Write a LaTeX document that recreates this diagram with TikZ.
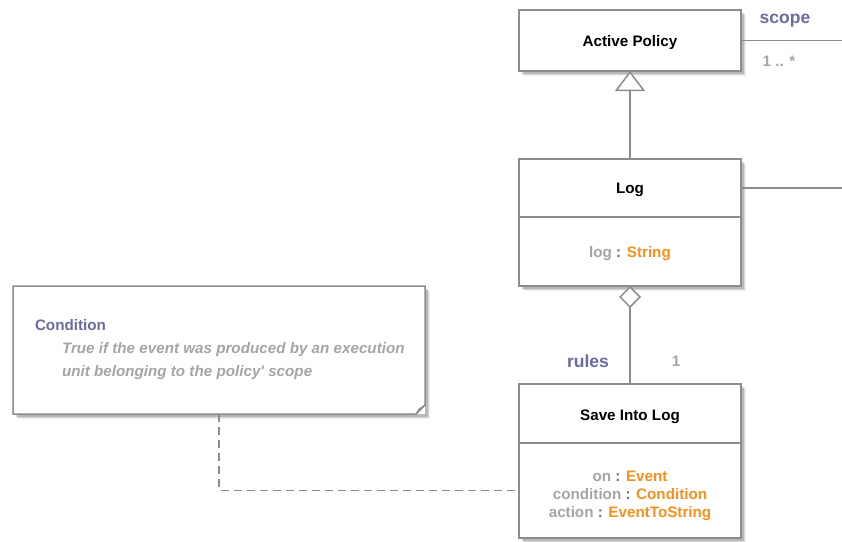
\documentclass[tikz,border=0pt]{standalone}
\usepackage{fontspec}
\setmainfont{Liberation Sans}
\usetikzlibrary{positioning,arrows.meta,shadows}
\definecolor{umlline}{HTML}{8C8C8C}
\definecolor{umlpurple}{HTML}{6B6BA0}
\definecolor{umlorange}{HTML}{F7901E}
\definecolor{umlgrey}{HTML}{A5A5A5}
\newcommand{\umlattr}[2]{\textcolor{umlgrey}{#1} \textcolor{umlpurple}{:} \textcolor{umlorange}{#2}}

\begin{document}
\begin{tikzpicture}[x=1pt, y=-1pt, line width=1.5pt, node distance=88pt,
    every node/.style={font=\fontsize{15.2}{18}\selectfont\bfseries, inner sep=0pt, outer sep=0pt},
    umlshadow/.style={
      drop shadow={shadow xshift=5pt, shadow yshift=-5pt, opacity=0.06, fill=black},
      drop shadow={shadow xshift=4pt, shadow yshift=-4pt, opacity=0.1, fill=black},
      drop shadow={shadow xshift=2.5pt, shadow yshift=-2.5pt, opacity=0.15, fill=black}},
    classbox/.style={draw=umlline, fill=white, minimum width=222pt, text depth=0pt, umlshadow},
    rolelabel/.style={font=\fontsize{17.5}{18}\selectfont\bfseries, text=umlpurple},
    multlabel/.style={text=umlgrey}]
    \useasboundingbox (0,0) rectangle (842,541);

    % classes
    \node (policy) [classbox, minimum height=61pt] at (630,40.5) {Active Policy};
    \node (log)      [classbox, minimum height=58pt, below=88pt of policy] {Log};
    \node (logattr)  [classbox, minimum height=69pt, below=0pt of log] {\umlattr{log}{String}};
    \node (save)     [classbox, minimum height=59pt, below=98pt of logattr] {\rule{0pt}{13pt}Save Into Log};
    \node (saveattr) [classbox, minimum height=95pt, below=0pt of save, align=center]
      {\rule{0pt}{17pt}\umlattr{on}{Event}\\ \umlattr{condition}{Condition}\\ \umlattr{action}{EventToString}};

    % note
    \node (note) [fill=white, minimum width=412pt, minimum height=128pt, umlshadow] at (219,350) {};
    \draw[umlline] (note.north west) -- (note.north east) -- ([shift={(0,-9)}]note.south east)
      -- ([shift={(-9,0)}]note.south east) -- (note.south west) -- cycle;
    \draw[umlline, line width=1pt] ([shift={(0,-9)}]note.south east) -- ([shift={(-6,-5)}]note.south east)
      -- ([shift={(-9,0)}]note.south east);
    \node (notehead) [anchor=west, text=umlpurple] at (35,325) {Condition};
    \node (notebody) [anchor=west, align=left, text=umlgrey, font=\fontsize{15.2}{23}\selectfont\bfseries\itshape] at (62,361.5)
      {True if the event was produced by an execution\\ unit belonging to the policy\textquotesingle\ scope};

    % free ends
    \coordinate (scopeend) at (842,40.5);
    \coordinate (logend) at (842,188);

    % connectors
    \draw[umlline] (policy.east) -- (scopeend);
    \draw[umlline] (log.east) -- (logend);
    \draw[umlline, -{Triangle[length=20pt, width=30pt, fill=white]}] (log.north) -- (policy.south);
    \draw[umlline, {Diamond[length=22pt, width=22pt, fill=white]}-] (logattr.south) -- (save.north);
    \draw[umlline, dash pattern=on 8pt off 5pt] (note.south) |- (saveattr.west);

    % role names and multiplicities
    \node (scopelabel) [rolelabel] at (785,21) {scope};
    \node (scopemult)  [multlabel] at (779,61) {1 .. *};
    \node (ruleslabel) [rolelabel] at (588,361) {rules};
    \node (rulesmult)  [multlabel] at (676,361) {1};
  \end{tikzpicture}
\end{document}
